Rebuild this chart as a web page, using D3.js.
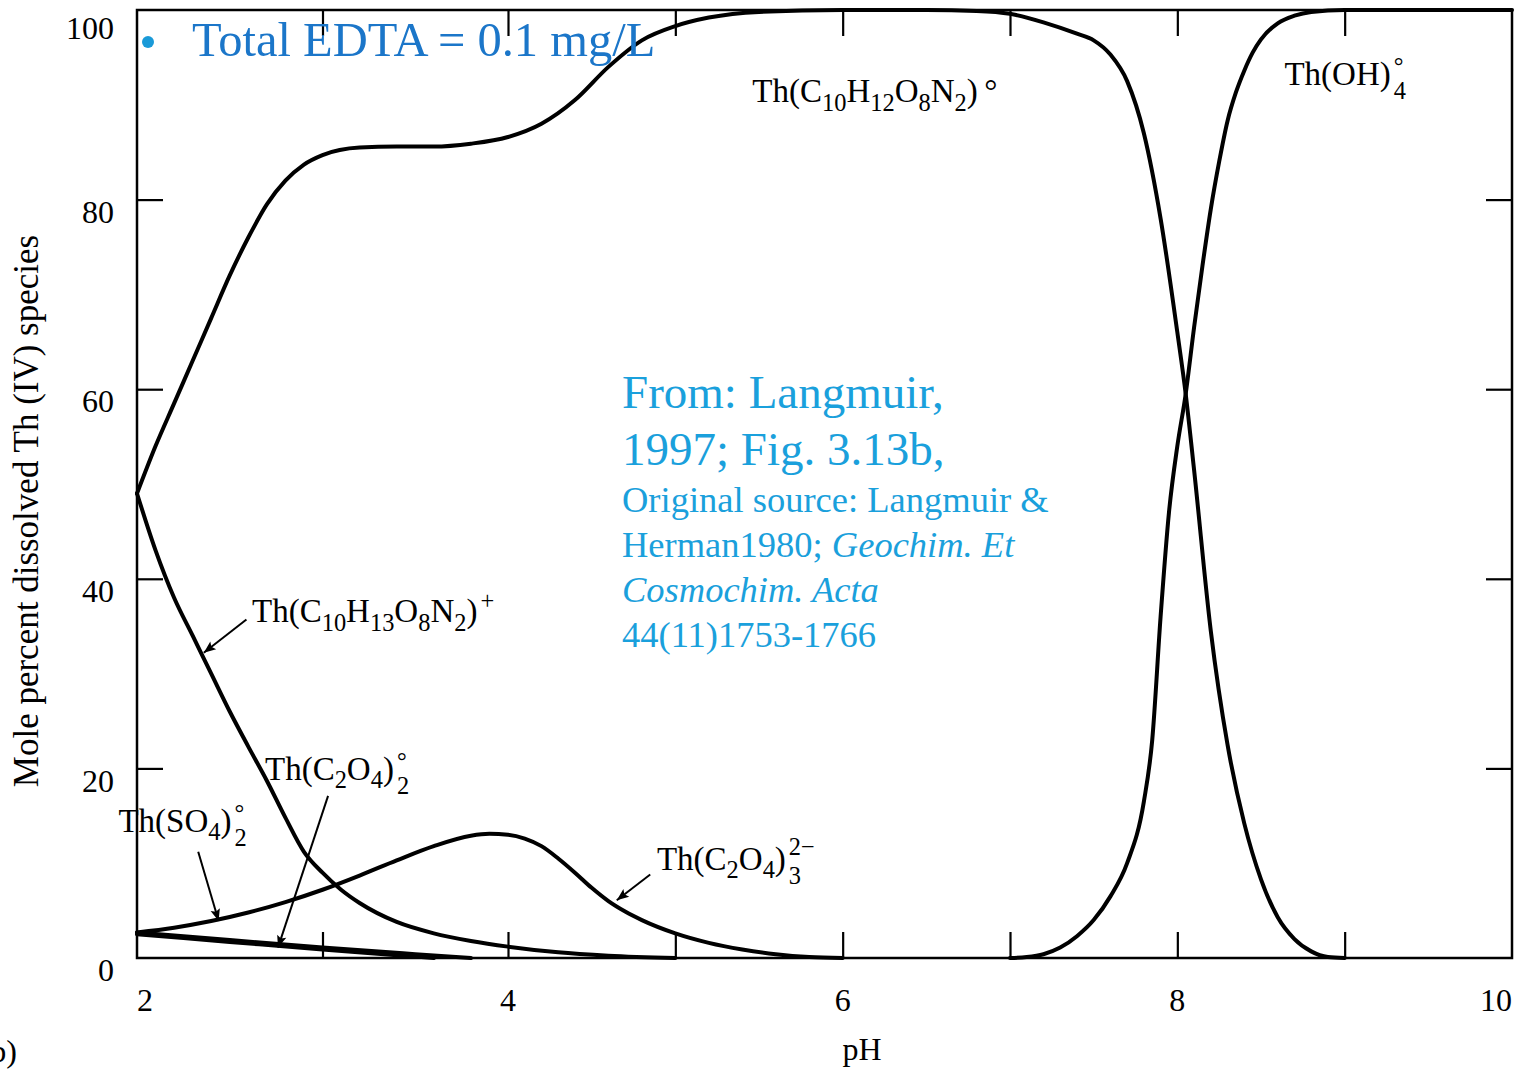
<!DOCTYPE html>
<html>
<head>
<meta charset="utf-8">
<script src="https://cdn.jsdelivr.net/npm/d3@7"></script>
<style>
  html, body { margin: 0; padding: 0; background: #fff; overflow: hidden; }
  svg { display: block; }
  text { font-family: "Liberation Serif", "Times New Roman", serif; fill: #000; }
</style>
</head>
<body>
<svg id="chart" width="1520" height="1069"></svg>
<script>
// ---- axis ticks ----
const phTicks = [2, 3, 4, 5, 6, 7, 8, 9, 10];
const phLabels = [2, 4, 6, 8, 10];
const pctTicks = [0, 20, 40, 60, 80, 100];

// ---- species distribution, [pH, mole %] ----
const edtaNeutral = [
  [2.0, 49], [2.1, 54], [2.2, 58.5], [2.3, 63], [2.4, 67.5], [2.5, 72], [2.6, 76],
  [2.7, 79.5], [2.8, 82], [2.9, 83.7], [3.0, 84.7], [3.2, 85.5], [3.4, 85.6],
  [3.6, 85.6], [3.8, 85.9], [4.0, 86.6], [4.2, 88], [4.4, 90.5], [4.6, 94],
  [4.8, 96.8], [5.0, 98.3], [5.2, 99.2], [5.5, 99.8], [6.0, 100], [6.5, 100],
  [6.8, 99.9], [7.0, 99.6], [7.2, 98.7], [7.4, 97.5], [7.5, 96.8], [7.6, 95.3],
  [7.7, 92.5], [7.8, 87], [7.9, 78], [8.0, 66], [8.05, 59.5], [8.1, 51.5],
  [8.2, 34.5], [8.3, 22.5], [8.4, 14.2], [8.5, 8.3], [8.6, 4.3], [8.7, 2.0],
  [8.8, 0.7], [8.9, 0.1], [9.0, 0]
];
const edtaProtonated = [
  [2.0, 49], [2.1, 43], [2.2, 38], [2.3, 34], [2.4, 30], [2.5, 26], [2.6, 22.3],
  [2.7, 18.7], [2.8, 14.8], [2.9, 11.2], [3.0, 9.0], [3.1, 7.2], [3.2, 5.8],
  [3.4, 3.8], [3.6, 2.6], [3.8, 1.8], [4.0, 1.2], [4.3, 0.6], [4.6, 0.25], [5.0, 0]
];
const oxalateTris = [
  [2.0, 2.7], [2.2, 3.2], [2.4, 3.9], [2.6, 4.8], [2.8, 5.9], [3.0, 7.2], [3.2, 8.7],
  [3.4, 10.3], [3.6, 11.8], [3.8, 12.9], [3.9, 13.1], [4.0, 13.0], [4.1, 12.6],
  [4.2, 11.8], [4.3, 10.5], [4.4, 9.0], [4.5, 7.4], [4.6, 6.0], [4.7, 4.9],
  [4.8, 4.0], [5.0, 2.6], [5.2, 1.6], [5.4, 0.9], [5.6, 0.4], [5.8, 0.1], [6.0, 0]
];
const oxalateBis = [
  [2.0, 2.7], [2.5, 1.9], [3.0, 1.1], [3.5, 0.4], [3.8, 0]
];
const sulfateBis = [
  [2.0, 2.5], [2.5, 1.7], [3.0, 0.9], [3.4, 0.3], [3.6, 0]
];
const hydroxide = [
  [7.0, 0], [7.1, 0.1], [7.2, 0.4], [7.3, 1.1], [7.4, 2.3], [7.5, 4.0], [7.6, 6.5],
  [7.7, 10.0], [7.8, 16.5], [7.85, 23], [7.9, 36], [7.95, 47], [8.0, 54],
  [8.05, 59.5], [8.1, 66.5], [8.15, 73], [8.2, 79], [8.25, 84], [8.3, 88.3],
  [8.35, 91.3], [8.4, 93.6], [8.45, 95.5], [8.5, 96.9], [8.6, 98.6], [8.7, 99.4],
  [8.8, 99.8], [9.0, 100], [10.0, 100]
];

const svg = d3.select("#chart");

// pH axis: the printed figure is slightly wider per unit below pH 4
const x = d3.scaleLinear().domain([2, 4, 10]).range([137, 508, 1512]);
const y = d3.scaleLinear().domain([0, 100]).range([958, 10]);

const curves = svg.append("g");
const line = d3.line().x(d => x(d[0])).y(d => y(d[1])).curve(d3.curveMonotoneX);
[edtaNeutral, edtaProtonated, oxalateTris, oxalateBis, sulfateBis, hydroxide].forEach(s => {
  curves.append("path")
    .attr("d", line(s))
    .attr("fill", "none")
    .attr("stroke", "#000")
    .attr("stroke-width", 4)
    .attr("stroke-linejoin", "round")
    .attr("stroke-linecap", "round");
});

// frame
const frame = svg.append("g");
frame.append("rect")
  .attr("x", x(2)).attr("y", y(100))
  .attr("width", x(10) - x(2)).attr("height", y(0) - y(100))
  .attr("fill", "none").attr("stroke", "#000").attr("stroke-width", 2.5);

// inward ticks on all four sides
const tickLen = 26;
const xAxisBottom = d3.axisTop(x).tickValues(phTicks.slice(1, -1)).tickSize(tickLen).tickFormat("");
const xAxisTop = d3.axisBottom(x).tickValues(phTicks.slice(1, -1)).tickSize(tickLen).tickFormat("");
const yAxisLeft = d3.axisRight(y).tickValues(pctTicks.slice(1, -1)).tickSize(tickLen).tickFormat("");
const yAxisRight = d3.axisLeft(y).tickValues(pctTicks.slice(1, -1)).tickSize(tickLen).tickFormat("");
[
  [xAxisBottom, `translate(0,${y(0)})`],
  [xAxisTop, `translate(0,${y(100)})`],
  [yAxisLeft, `translate(${x(2)},0)`],
  [yAxisRight, `translate(${x(10)},0)`]
].forEach(([ax, tr]) => {
  const g = frame.append("g").attr("transform", tr).call(ax);
  g.select(".domain").remove();
  g.selectAll(".tick line").attr("stroke", "#000").attr("stroke-width", 2.2);
});

// tick labels
const tl = svg.append("g").attr("font-size", 32);
phLabels.forEach((v, i) => {
  tl.append("text")
    .attr("x", x(v))
    .attr("y", 1011)
    .attr("text-anchor", i === 0 ? "start" : i === phLabels.length - 1 ? "end" : "middle")
    .text(v);
});
pctTicks.forEach(v => {
  tl.append("text")
    .attr("x", 114)
    .attr("y", y(v) + (v === 100 ? 18 : 12))
    .attr("dy", "0.35em")
    .attr("text-anchor", "end")
    .text(v);
});

// axis titles
svg.append("text")
  .attr("transform", "translate(38,511) rotate(-90)")
  .attr("text-anchor", "middle")
  .attr("font-size", 35)
  .text("Mole percent dissolved Th (IV) species");
svg.append("text")
  .attr("x", 862).attr("y", 1060)
  .attr("text-anchor", "middle")
  .attr("font-size", 32)
  .text("pH");
svg.append("text")
  .attr("x", 17).attr("y", 1062)
  .attr("text-anchor", "end")
  .attr("font-size", 32)
  .text("(b)");

// species labels with sub/superscripts; a "stack" part puts a superscript
// directly above its subscript, inside the same text element
const labels = svg.append("g");
function chem(px, py, parts, fs) {
  const ss = fs * 0.74;
  const t = labels.append("text").attr("x", x(px)).attr("y", y(py)).attr("font-size", fs);
  let cur = 0, idx = 0;
  const stacked = [];
  parts.forEach(([txt, kind, sup, supShift]) => {
    const target = kind === "sub" ? fs * 0.26 : kind === "stack" ? fs * 0.42 : kind === "sup" ? -fs * 0.4 : 0;
    const ts = t.append("tspan").attr("dy", target - cur).text(txt);
    cur = target;
    if (kind !== "n") ts.attr("font-size", ss);
    if (kind === "stack") { ts.attr("dx", 3); stacked.push({ idx, sup, supShift }); }
    if (kind === "sup") ts.attr("dx", 3);
    idx += txt.length;
  });
  stacked.forEach(s => {
    const p = t.node().getStartPositionOfChar(s.idx);
    const target = s.supShift * fs;
    t.append("tspan")
      .attr("x", p.x)
      .attr("dy", target - cur)
      .attr("font-size", ss)
      .text(s.sup);
    cur = target;
  });
}

const fsLabel = 33;
chem(5.46, 90.3, [["Th(C", "n"], ["10", "sub"], ["H", "n"], ["12", "sub"], ["O", "n"], ["8", "sub"],
  ["N", "n"], ["2", "sub"], [")\u2009°", "n"]], fsLabel);
chem(8.64, 92.1, [["Th(OH)", "n"], ["4", "stack", "°", -0.32]], fsLabel);
chem(2.62, 35.4, [["Th(C", "n"], ["10", "sub"], ["H", "n"], ["13", "sub"], ["O", "n"], ["8", "sub"],
  ["N", "n"], ["2", "sub"], [")", "n"], ["+", "sup"]], fsLabel);
chem(2.69, 18.8, [["Th(C", "n"], ["2", "sub"], ["O", "n"], ["4", "sub"], [")", "n"], ["2", "stack", "°", -0.32]], fsLabel);
chem(1.90, 13.3, [["Th(SO", "n"], ["4", "sub"], [")", "n"], ["2", "stack", "°", -0.32]], fsLabel);
chem(4.89, 9.3, [["Th(C", "n"], ["2", "sub"], ["O", "n"], ["4", "sub"], [")", "n"], ["3", "stack", "2\u2212", -0.44]], fsLabel);

// leader arrows, [from pH, from %, to pH, to %]
const arrows = [
  [2.59, 35.7, 2.36, 32.2],
  [3.03, 17.1, 2.76, 1.1],
  [2.33, 11.2, 2.44, 3.9],
  [4.85, 8.8, 4.65, 6.1]
];
svg.append("defs").append("marker")
  .attr("id", "head")
  .attr("viewBox", "0 0 10 10")
  .attr("refX", 10).attr("refY", 5)
  .attr("markerWidth", 7).attr("markerHeight", 6)
  .attr("markerUnits", "strokeWidth")
  .attr("orient", "auto")
  .append("path").attr("d", "M0,1 L10,5 L0,9 L2,5 Z").attr("fill", "#000");
svg.append("g").selectAll("line").data(arrows).join("line")
  .attr("x1", d => x(d[0])).attr("y1", d => y(d[1]))
  .attr("x2", d => x(d[2])).attr("y2", d => y(d[3]))
  .attr("stroke", "#000").attr("stroke-width", 2)
  .attr("marker-end", "url(#head)");

// slide annotations
const note = svg.append("g");
note.append("circle").attr("cx", 148).attr("cy", 42).attr("r", 6).attr("fill", "#1a9ad8");
note.append("text")
  .attr("x", 192).attr("y", 56)
  .attr("font-size", 48.5)
  .style("fill", "#1b76c9")
  .text("Total EDTA = 0.1 mg/L");

const citeColor = "#1aa0dc";
[
  [408, 47, [["From: Langmuir,", false]]],
  [465, 47, [["1997; Fig. 3.13b,", false]]],
  [512, 36.5, [["Original source: Langmuir &", false]]],
  [557, 36.5, [["Herman1980; ", false], ["Geochim. Et", true]]],
  [602, 36.5, [["Cosmochim. Acta", true]]],
  [647, 36.5, [["44(11)1753-1766", false]]]
].forEach(([by, fs, segs]) => {
  const t = note.append("text").attr("x", 622).attr("y", by).attr("font-size", fs).style("fill", citeColor);
  segs.forEach(([s, it]) => {
    const ts = t.append("tspan").text(s).style("fill", citeColor);
    if (it) ts.attr("font-style", "italic");
  });
});
</script>
</body>
</html>
